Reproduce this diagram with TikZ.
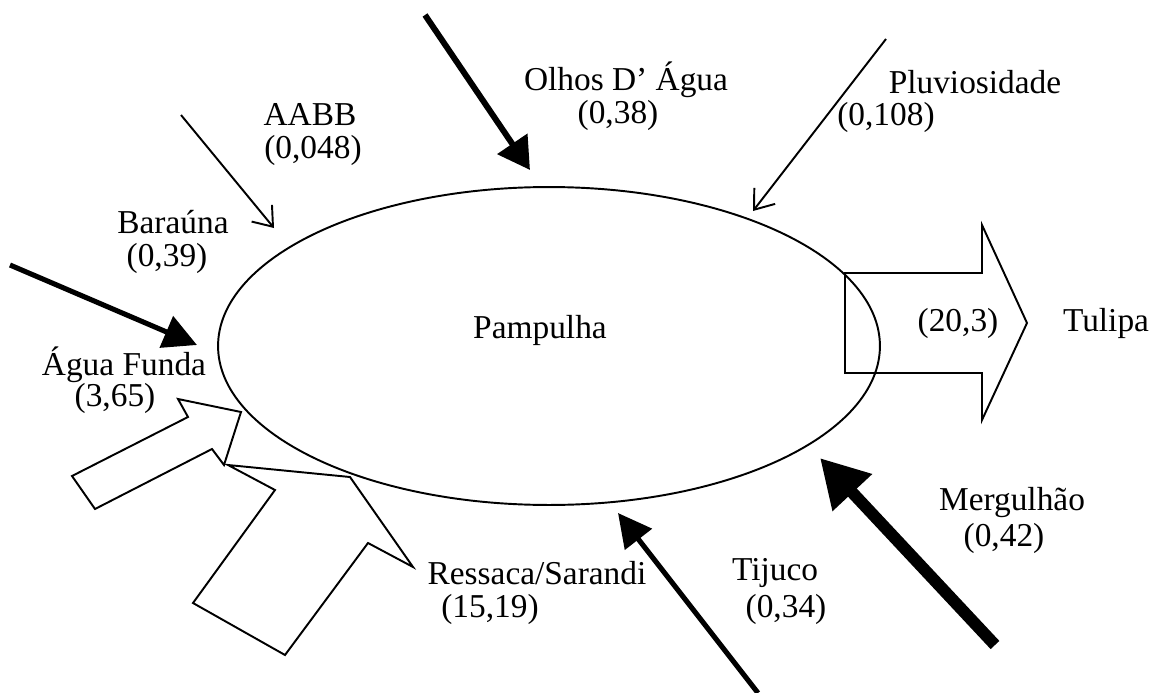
\documentclass[tikz,border=0pt]{standalone}
\usepackage{fontspec}
\setmainfont{Liberation Serif}
\usetikzlibrary{arrows.meta,shapes.geometric}
\begin{document}
\begin{tikzpicture}[x=0.02cm,y=-0.02cm,
  lbl/.style={font=\fontsize{19}{22}\selectfont, inner sep=0pt},
  lake/.style={draw, ellipse, line width=1.1pt, minimum width=13.24cm, minimum height=6.36cm, inner sep=0pt},
  fineflow/.style={line width=1.1pt, -{Straight Barb[length=10pt,width=15pt,line width=1.1pt]}},
  heavyflow/.style={line width=3.4pt, -{Triangle[length=18pt,width=20pt]}},
  mediumflow/.style={line width=2.9pt, -{Triangle[length=19pt,width=19pt]}},
  hugeflow/.style={line width=6.8pt, -{Triangle[length=27pt,width=29pt]}},
  bigflow/.style={draw, line width=1.1pt, line join=miter}
]
\useasboundingbox (0,0) rectangle (1157,693);

% reservoir
\node[lake] (pampulha) at (549,346) {};
\node[lbl] (pampulhatxt) at (540,330) {Pampulha};

% labels
\node[lbl] (olhos) at (626,80) {Olhos D' Água};
\node[lbl] (olhosv) at (618,115) {(0,38)};
\node[lbl] (pluv) at (975,82) {Pluviosidade};
\node[lbl] (pluvv) at (886,117) {(0,108)};
\node[lbl] (aabb) at (310,115) {AABB};
\node[lbl] (aabbv) at (313,150) {(0,048)};
\node[lbl] (barauna) at (173,222) {Baraúna};
\node[lbl] (baraunav) at (167,258) {(0,39)};
\node[lbl] (agua) at (124,365) {Água Funda};
\node[lbl] (aguav) at (115,398) {(3,65)};
\node[lbl] (tulipav) at (958,323) {(20,3)};
\node[lbl] (tulipa) at (1106,323) {Tulipa};
\node[lbl] (merg) at (1012,503) {Mergulhão};
\node[lbl] (mergv) at (1004,538) {(0,42)};
\node[lbl] (tijuco) at (775,573) {Tijuco};
\node[lbl] (tijucov) at (786,609) {(0,34)};
\node[lbl] (ressaca) at (537,573) {Ressaca/Sarandi};
\node[lbl] (ressacav) at (490,609) {(15,19)};

% arrow end points
\coordinate (olhosA) at (425,15);   \coordinate (olhosB) at (530,170);
\coordinate (pluvA) at (886,39);    \coordinate (pluvB) at (753,211);
\coordinate (aabbA) at (181,115);   \coordinate (aabbB) at (274,228);
\coordinate (aguaA) at (10,265);    \coordinate (aguaB) at (197,345);
\coordinate (tijA) at (758,693);    \coordinate (tijB) at (618,513);
\coordinate (mergA) at (995,645);   \coordinate (mergB) at (820,458);

% inflows
\draw[heavyflow] (olhosA) -- (olhosB);
\draw[fineflow] (pluvA) -- (pluvB);
\draw[fineflow] (aabbA) -- (aabbB);
\draw[mediumflow] (aguaA) -- (aguaB);
\draw[mediumflow] (tijA) -- (tijB);
\draw[hugeflow] (mergA) -- (mergB);

% outflow to Tulipa
\draw[bigflow] (845,273) -- (982,273) -- (982,225) -- (1027,323) -- (982,420) -- (982,373) -- (845,373) -- cycle;

% hollow inflow arrows (Água Funda, Ressaca/Sarandi)
\draw[bigflow] (72,476) -- (188,417) -- (178,399) -- (241,412) -- (224,465) -- (212,449) -- (95,509) -- cycle;
\draw[bigflow] (228,465) -- (350,477) -- (413,567) -- (368,543) -- (285,655) -- (193,603) -- (275,490) -- cycle;
\end{tikzpicture}
\end{document}
